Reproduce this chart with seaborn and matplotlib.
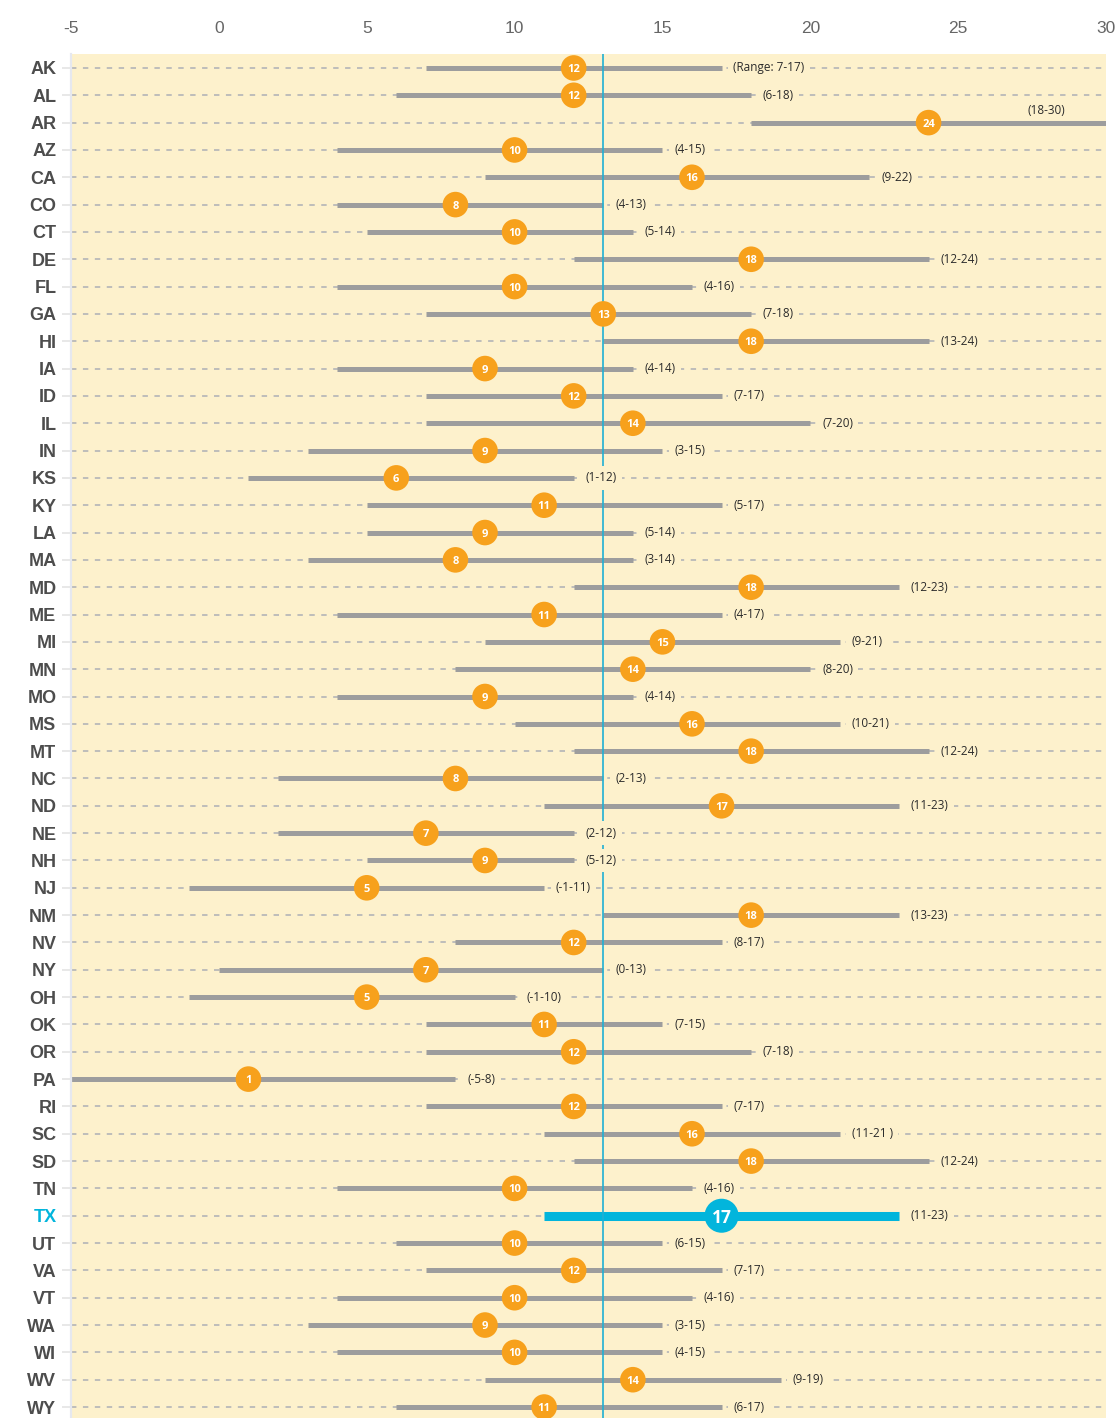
import numpy as np
import pandas as pd
import matplotlib
matplotlib.use("Agg")
import matplotlib.pyplot as plt
import seaborn as sns

# data
states = ['AK', 'AL', 'AR', 'AZ', 'CA', 'CO', 'CT', 'DE', 'FL', 'GA',
          'HI', 'IA', 'ID', 'IL', 'IN', 'KS', 'KY', 'LA', 'MA', 'MD',
          'ME', 'MI', 'MN', 'MO', 'MS', 'MT', 'NC', 'ND', 'NE', 'NH',
          'NJ', 'NM', 'NV', 'NY', 'OH', 'OK', 'OR', 'PA', 'RI', 'SC',
          'SD', 'TN', 'TX', 'UT', 'VA', 'VT', 'WA', 'WI', 'WV', 'WY']
low = [7, 6, 18, 4, 9, 4, 5, 12, 4, 7,
       13, 4, 7, 7, 3, 1, 5, 5, 3, 12,
       4, 9, 8, 4, 10, 12, 2, 11, 2, 5,
       -1, 13, 8, 0, -1, 7, 7, -5, 7, 11,
       12, 4, 11, 6, 7, 4, 3, 4, 9, 6]
value = [12, 12, 24, 10, 16, 8, 10, 18, 10, 13,
         18, 9, 12, 14, 9, 6, 11, 9, 8, 18,
         11, 15, 14, 9, 16, 18, 8, 17, 7, 9,
         5, 18, 12, 7, 5, 11, 12, 1, 12, 16,
         18, 10, 17, 10, 12, 10, 9, 10, 14, 11]
high = [17, 18, 30, 15, 22, 13, 14, 24, 16, 18,
        24, 14, 17, 20, 15, 12, 17, 14, 14, 23,
        17, 21, 20, 14, 21, 24, 13, 23, 12, 12,
        11, 23, 17, 13, 10, 15, 18, 8, 17, 21,
        24, 16, 23, 15, 17, 16, 15, 15, 19, 17]
highlight = 'TX'
ref_value = 13
xticks = [-5, 0, 5, 10, 15, 20, 25, 30]

df = pd.DataFrame({'state': states, 'low': low, 'value': value, 'high': high})
df['row'] = np.arange(len(df))
df['label'] = ['(%d-%d)' % (a, b) for a, b in zip(df.low, df.high)]
df.loc[df.state == 'AK', 'label'] = '(Range: 7-17)'
df.loc[df.state == 'SC', 'label'] = '(11-21 )'

BG = '#fdf1cc'
ORANGE = '#f7a11c'
BLUE = '#02b5dc'
GRAY = '#9d9d9d'
LABEL_FONT = ['Open Sans', 'DejaVu Sans']

sns.set_theme(style='white')
plt.rcParams['font.family'] = ['Liberation Sans', 'DejaVu Sans']

fig = plt.figure(figsize=(11.2, 14.18), dpi=100)
ax = fig.add_axes([71 / 1120, -2.7 / 1418, 1035 / 1120, 1366.4 / 1418])
ax.set_facecolor(BG)

others = df[df.state != highlight]
hl = df[df.state == highlight]

# dashed row guides
ax.hlines(df.row, -5, 30, colors='#b9b9b9', linewidth=1.3,
          linestyles=(0, (3.0, 3.6)), zorder=0.5)

# ranges
ax.hlines(others.row, others.low, others.high, colors=GRAY, linewidth=3.6, zorder=2)
ax.hlines(hl.row, hl.low, hl.high, colors=BLUE, linewidth=6.5, zorder=2)

# reference line
ax.axvline(ref_value, color='#1fb0d4', linewidth=1.2, zorder=2.5)

# range labels
for _, r in df.iterrows():
    if r.state == 'AR':
        ax.annotate(r.label, (28, r.row), xytext=(0, 9), textcoords='offset points',
                    ha='center', va='center', fontsize=8.5, color='#2b2b2b',
                    family=LABEL_FONT, zorder=3)
    else:
        ax.annotate(r.label, (r.high, r.row), xytext=(8.5, 0), textcoords='offset points',
                    ha='left', va='center', fontsize=8.5, color='#2b2b2b',
                    family=LABEL_FONT, zorder=3,
                    bbox=dict(boxstyle='square,pad=0.45', fc=BG, ec='none'))

# dots
sns.scatterplot(data=others, x='value', y='row', s=340, color=ORANGE,
                edgecolor='none', linewidth=0, ax=ax, zorder=4, legend=False)
sns.scatterplot(data=hl, x='value', y='row', s=600, color=BLUE,
                edgecolor='none', linewidth=0, ax=ax, zorder=4, legend=False)

for _, r in df.iterrows():
    big = r.state == highlight
    ax.text(r.value, r.row, str(r.value), ha='center', va='center_baseline',
            color='white', fontsize=12.5 if big else 8, fontweight='bold',
            family=LABEL_FONT, zorder=5)

ax.set_xlim(-5, 30)
ax.set_ylim(len(df) - 0.5, -0.5)
ax.set_xlabel('')
ax.set_ylabel('')

ax.xaxis.tick_top()
ax.set_xticks(xticks)
ax.set_xticklabels([str(t) for t in xticks])
ax.tick_params(axis='x', length=0, pad=13, labelsize=12.5, labelcolor='#666666')

ax.set_yticks(df.row)
ax.set_yticklabels(df.state)
ax.tick_params(axis='y', left=True, length=6.5, width=1.2, color='#e4e4e4',
               pad=4, labelsize=13, labelcolor='#4d4d4d')
for lab in ax.get_yticklabels():
    lab.set_fontweight('bold')
    if lab.get_text() == highlight:
        lab.set_color(BLUE)

for side in ['top', 'right', 'bottom']:
    ax.spines[side].set_visible(False)
ax.spines['left'].set_color('#e6e8ef')
ax.spines['left'].set_linewidth(1.6)

fig.savefig('out.png', dpi=100, facecolor='white')
